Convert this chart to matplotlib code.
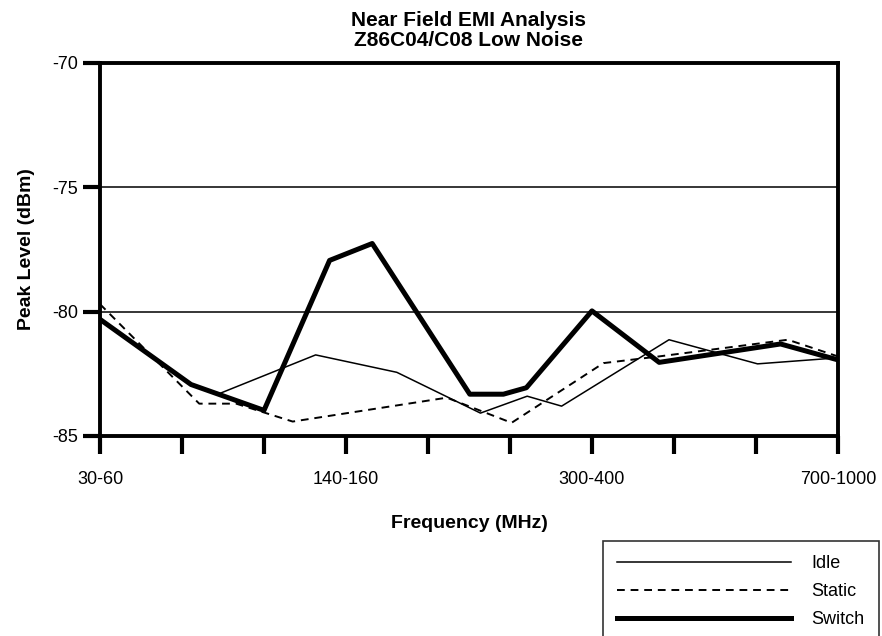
import matplotlib
matplotlib.use("Agg")
import matplotlib.pyplot as plt

plt.rcParams['font.family'] = ['Liberation Sans', 'DejaVu Sans']

# frequency band labels (every third tick carries a label)
tick_labels = ['30-60', '', '', '140-160', '', '', '300-400', '', '', '700-1000']

# series: x in tick units, y in dBm
idle_x = [0, 1.11, 1.46, 2.63, 3.62, 4.64, 5.21, 5.63, 6.94, 8.02, 8.95, 9.0]
idle_y = [-80.3, -82.93, -83.29, -81.74, -82.44, -84.08, -83.4, -83.8, -81.13, -82.1, -81.87, -81.9]

static_x = [0, 1.21, 1.66, 2.35, 4.23, 5.02, 6.14, 6.82, 8.39, 9.0]
static_y = [-79.7, -83.7, -83.7, -84.42, -83.46, -84.47, -82.07, -81.8, -81.13, -81.8]

switch_x = [0, 1.11, 2.0, 2.8, 3.32, 4.51, 4.92, 5.2, 6.0, 6.82, 8.3, 9.0]
switch_y = [-80.31, -82.93, -83.97, -77.94, -77.26, -83.32, -83.32, -83.06, -79.97, -82.04, -81.3, -81.94]

fig = plt.figure(figsize=(8.82, 6.36), dpi=100)
ax = fig.add_axes([0.1134, 0.3145, 0.8366, 0.5865])

ax.plot(idle_x, idle_y, color='black', lw=1.1, label='Idle')
ax.plot(static_x, static_y, color='black', lw=1.4, ls=(0, (4, 3)), label='Static')
ax.plot(switch_x, switch_y, color='black', lw=3.6, label='Switch')

for yv in [-75, -80]:
    ax.axhline(yv, color='black', lw=1.1, zorder=0)

ax.set_xlim(0, 9)
ax.set_ylim(-85, -70)
ax.set_xticks(range(len(tick_labels)))
ax.set_xticklabels(tick_labels, fontsize=13)
ax.set_yticks([-85, -80, -75, -70])
ax.set_yticklabels(['-85', '-80', '-75', '-70'], fontsize=13)
ax.tick_params(axis='x', direction='out', length=13, width=3, pad=12)
ax.tick_params(axis='y', direction='out', length=12, width=3, pad=4)
for s in ax.spines.values():
    s.set_linewidth(2.8)

ax.set_xlabel('Frequency (MHz)', fontsize=14, fontweight='bold', labelpad=20)
ax.set_ylabel('Peak Level (dBm)', fontsize=14, fontweight='bold', labelpad=12)
ax.set_title('Near Field EMI Analysis\nZ86C04/C08 Low Noise', fontsize=15,
             fontweight='bold', pad=12, linespacing=1.1)

leg = fig.legend(loc='upper left', bbox_to_anchor=(603 / 882, 1 - 541 / 636),
                 bbox_transform=fig.transFigure, fontsize=13, frameon=True,
                 fancybox=False, handlelength=9.6, handletextpad=1.15,
                 borderpad=0.8, labelspacing=0.6, borderaxespad=0)
leg.get_frame().set_edgecolor('black')
leg.get_frame().set_linewidth(1.2)

fig.savefig('out.png', dpi=100)
